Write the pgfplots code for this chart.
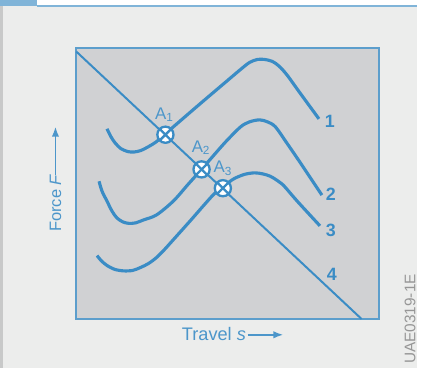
\documentclass[border=0pt]{standalone}
\usepackage{fontspec}
\setmainfont{Liberation Sans}
\usepackage{pgfplots}
\pgfplotsset{compat=1.18}
\usetikzlibrary{plotmarks,arrows.meta}
\definecolor{outerbg}{RGB}{236,237,236}
\definecolor{innerbg}{RGB}{208,209,211}
\definecolor{boxblue}{RGB}{92,158,204}
\definecolor{curve}{RGB}{58,140,197}
\definecolor{lblue}{RGB}{76,150,202}
\definecolor{tabblue}{RGB}{128,180,216}
\definecolor{strip}{RGB}{200,201,201}
\definecolor{code}{RGB}{150,150,150}
\begin{document}
\begin{tikzpicture}
% frame around the figure, in pixel units of the reference
\begin{scope}[shift={(-46.2pt,193.2pt)}, x=0.6pt, y=-0.6pt]
\fill[outerbg] (0,0) rectangle (421,372);
\fill[white] (37,0) rectangle (421,5);
\fill[tabblue] (0,0) rectangle (37,6);
\fill[tabblue] (37,5) rectangle (421,7);
\fill[strip] (0,6) rectangle (3,372);
\end{scope}
\begin{axis}[
    scale only axis, width=183.6pt, height=164.4pt,
    xmin=77, xmax=383, ymin=48, ymax=322, y dir=reverse,
    ticks=none, clip=false,
    axis line style={boxblue, line width=1.2pt},
    axis background/.style={fill=innerbg},
]
% line 4
\addplot[curve, line width=1.2pt] coordinates {(77,52) (365,322)};
% curve 1
\addplot[curve, line width=1.9pt, smooth, tension=0.5] coordinates {
  (108,130) (112,138) (116,144) (122,150) (129,153) (135,153.5) (142,152)
  (150,148) (158,143) (167,135) (200,106.5) (230,81) (243,70) (252,63)
  (260,60) (267,60) (275,62) (282,67) (290,76) (303,94) (322,120)};
% curve 2
\addplot[curve, line width=1.9pt, smooth, tension=0.5] coordinates {
  (100,183) (103,193) (108,203) (113,213) (118,220) (124,224) (130,225.5)
  (137,225) (145,222) (158,217) (175,203) (190,186) (203,171.5) (213,160)
  (228,143) (243,128) (252,123) (262,121) (270,123) (278,128) (290,145)
  (303,164) (325,197)};
% curve 3
\addplot[curve, line width=1.9pt, smooth, tension=0.5] coordinates {
  (98,258) (102,263) (108,268) (116,272) (125,273.5) (134,273) (142,270)
  (150,266) (158,260) (166,252) (175,242) (192,223) (215,197) (225,189)
  (231,184) (237,180) (247,176) (257,174.5) (265,175.5) (273,178) (281,183)
  (287,188) (300,203) (323,228)};
% operating points
\addplot[only marks, mark=otimes*, mark size=4.9pt,
  mark options={fill=white, draw=curve, line width=1.4pt}] coordinates {
  (167,136) (203.5,171) (225,190)};
\node[lblue, font=\fontsize{10.2}{12}\selectfont] at (axis cs:166,116) {A\textsubscript{1}};
\node[lblue, font=\fontsize{10.2}{12}\selectfont] at (axis cs:203,149) {A\textsubscript{2}};
\node[lblue, font=\fontsize{10.2}{12}\selectfont] at (axis cs:225,170) {A\textsubscript{3}};
\node[curve, font=\fontsize{10.8}{12}\selectfont\bfseries] at (axis cs:333,123) {1};
\node[curve, font=\fontsize{10.8}{12}\selectfont\bfseries] at (axis cs:334,196) {2};
\node[curve, font=\fontsize{10.8}{12}\selectfont\bfseries] at (axis cs:334,233) {3};
\node[curve, font=\fontsize{10.8}{12}\selectfont\bfseries] at (axis cs:335,277) {4};
% axis descriptions
\node[lblue, rotate=90, font=\fontsize{10}{12}\selectfont] at (axis cs:56,205) {Force \textit{F}};
\draw[lblue, line width=1pt, -{Latex[length=6pt,width=4.5pt]}] (axis cs:56,177) -- (axis cs:56,128);
\node[lblue, font=\fontsize{11}{12}\selectfont] at (axis cs:216,337) {Travel \textit{s}};
\draw[lblue, line width=1pt, -{Latex[length=6pt,width=4.5pt]}] (axis cs:250,338) -- (axis cs:286,338);
\node[code, rotate=90, font=\fontsize{9.3}{11}\selectfont] at (axis cs:414,322) {UAE0319-1E};
\end{axis}
\end{tikzpicture}
\end{document}
